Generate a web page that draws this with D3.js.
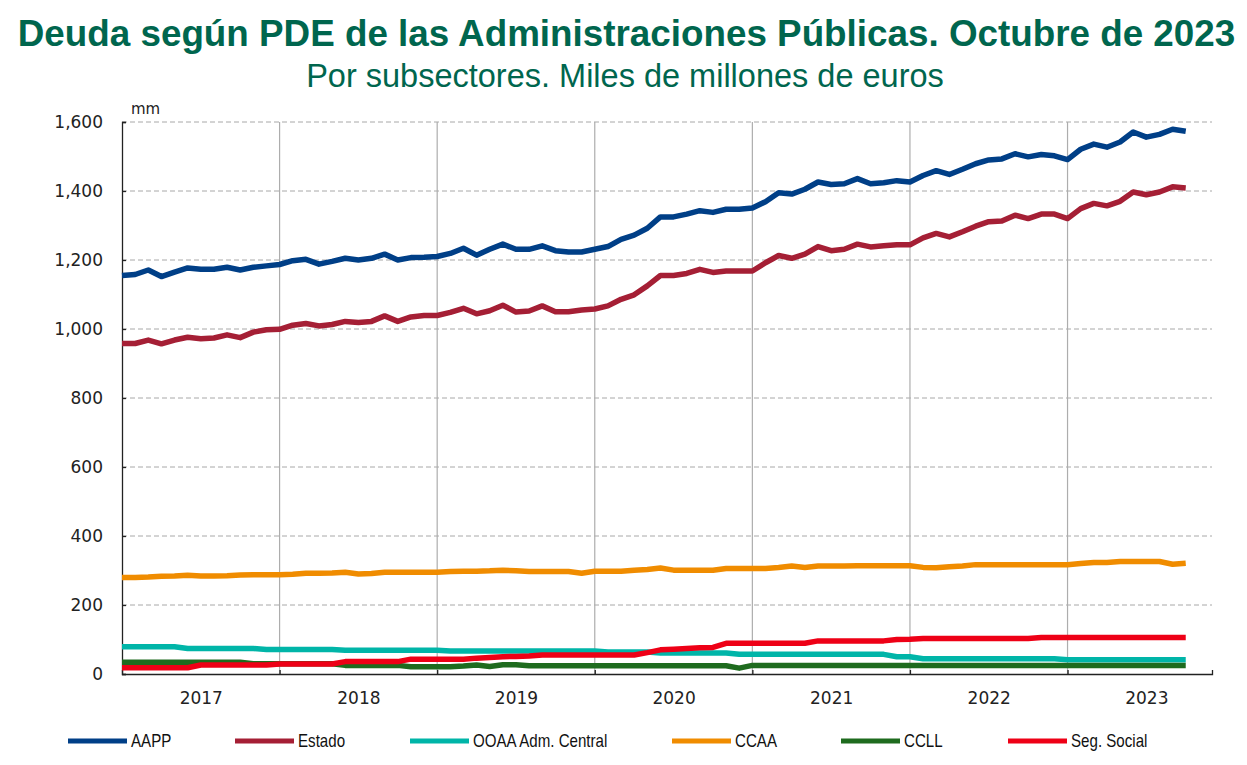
<!DOCTYPE html>
<html>
<head>
<meta charset="utf-8">
<script src="https://cdn.jsdelivr.net/npm/d3@7"></script>
<style>
  body { margin: 0; background: #fff; }
  svg { display: block; }
</style>
</head>
<body>
<div id="chart"></div>
<script>
// monthly data, Jan 2017 .. Oct 2023
const years = [2017, 2018, 2019, 2020, 2021, 2022, 2023];
const yTicks = [0, 200, 400, 600, 800, 1000, 1200, 1400, 1600];

const seriesNames = ['AAPP', 'Estado', 'OOAA Adm. Central', 'CCAA', 'CCLL', 'Seg. Social'];
const seriesColors = ['#003f87', '#a51f35', '#00b5a8', '#f08c00', '#1e6b1e', '#ee0016'];

const aapp = [
  1155, 1158, 1171, 1152, 1165, 1177, 1173, 1173, 1179, 1171, 1179, 1183,
  1187, 1198, 1202, 1188, 1196, 1205, 1200, 1205, 1217, 1200, 1207, 1208,
  1210, 1219, 1234, 1214, 1231, 1246, 1231, 1231, 1241, 1227, 1223, 1223,
  1231, 1239, 1260, 1272, 1292, 1325, 1325, 1333, 1343, 1338, 1347, 1347,
  1351, 1369, 1395, 1391, 1405, 1426, 1419, 1421, 1436, 1421, 1424, 1430,
  1426, 1445, 1459, 1448, 1463, 1479, 1490, 1493, 1508, 1499, 1506, 1502,
  1491, 1521, 1536, 1527, 1542, 1571, 1556, 1564, 1579, 1573
];
const estado = [
  958, 958, 968, 957, 968, 976, 972, 974, 983, 975, 991, 998,
  999, 1011, 1016, 1009, 1013, 1022, 1019, 1022, 1038, 1022, 1035, 1039,
  1039, 1048, 1060, 1044, 1053, 1069, 1049, 1052, 1067, 1050, 1050, 1055,
  1058, 1067, 1086, 1099, 1125, 1155, 1155, 1161, 1173, 1164, 1168, 1168,
  1168, 1192, 1213, 1205, 1217, 1239, 1227, 1231, 1246, 1238, 1241, 1244,
  1244, 1264, 1277, 1267, 1282, 1298, 1311, 1313, 1330, 1320, 1333, 1333,
  1320, 1349, 1364, 1357, 1370, 1397, 1389, 1397, 1412, 1409
];
const ooaa = [
  79, 79, 79, 79, 79, 74, 74, 74, 74, 74, 74, 71,
  71, 71, 71, 71, 71, 69, 69, 69, 69, 69, 69, 69,
  69, 67, 67, 67, 67, 67, 67, 67, 67, 67, 67, 67,
  67, 64, 64, 64, 64, 61, 61, 61, 61, 61, 61, 57,
  57, 57, 57, 57, 57, 57, 57, 57, 57, 57, 57, 50,
  50, 44, 44, 44, 44, 44, 44, 44, 44, 44, 44, 44,
  41, 41, 41, 41, 41, 41, 41, 41, 41, 41
];
const ccaa = [
  280, 280, 281, 283, 284, 286, 284, 284, 285, 287, 288, 288,
  288, 289, 292, 292, 293, 295, 290, 291, 295, 295, 295, 295,
  295, 297, 298, 298, 299, 301, 299, 297, 297, 297, 297, 292,
  298, 298, 298, 301, 303, 307, 301, 301, 301, 301, 306, 306,
  306, 306, 309, 313, 309, 313, 313, 313, 314, 314, 314, 314,
  314, 309, 308, 311, 313, 317, 317, 317, 317, 317, 317, 317,
  317, 320, 323, 323, 326, 326, 326, 326, 318, 321
];
const ccll = [
  34, 34, 34, 34, 34, 34, 34, 34, 34, 34, 30, 30,
  30, 30, 30, 30, 30, 25, 25, 25, 25, 25, 21, 21,
  21, 21, 23, 26, 22, 27, 27, 24, 24, 24, 24, 24,
  24, 24, 24, 24, 24, 24, 24, 24, 24, 24, 24, 17,
  25, 25, 25, 25, 25, 25, 25, 25, 25, 25, 25, 25,
  25, 25, 25, 25, 25, 25, 25, 25, 25, 25, 25, 25,
  25, 25, 25, 25, 25, 25, 25, 25, 25, 25
];
const segSocial = [
  18, 18, 18, 18, 18, 18, 26, 26, 26, 26, 26, 26,
  29, 29, 29, 29, 29, 36, 36, 36, 36, 36, 43, 43,
  43, 43, 43, 46, 48, 50, 51, 52, 55, 55, 55, 55,
  55, 55, 55, 55, 62, 70, 72, 74, 76, 77, 89, 89,
  89, 89, 89, 89, 89, 96, 96, 96, 96, 96, 96, 100,
  101, 103, 103, 103, 103, 103, 103, 103, 103, 103, 106, 106,
  106, 106, 106, 106, 106, 106, 106, 106, 106, 106
];
const seriesValues = [aapp, estado, ooaa, ccaa, ccll, segSocial];

const width = 1247;
const height = 765;
const plotLeft = 122, plotRight = 1212, plotTop = 122, plotBottom = 674;
const legendX = [68, 235, 410, 672, 841, 1008];
const green = '#00664e';
const tickFont = 'DejaVu Sans, sans-serif';

const svg = d3.select('#chart')
  .append('svg')
    .attr('width', width)
    .attr('height', height);

// title
svg.append('text')
    .attr('x', width / 2 + 3)
    .attr('y', 46)
    .attr('text-anchor', 'middle')
    .style('font-family', 'Liberation Sans, Arial, sans-serif')
    .style('font-weight', 'bold')
    .style('font-size', '36.8px')
    .style('fill', green)
    .text('Deuda según PDE de las Administraciones Públicas. Octubre de 2023');

svg.append('text')
    .attr('x', 625)
    .attr('y', 87)
    .attr('text-anchor', 'middle')
    .style('font-family', 'Liberation Sans, Arial, sans-serif')
    .style('font-size', '32.5px')
    .style('fill', green)
    .text('Por subsectores. Miles de millones de euros');

const nMonths = years.length * 12 - 1; // domain up to Dec 2023
const x = d3.scaleLinear().domain([0, nMonths]).range([plotLeft, plotRight]);
const y = d3.scaleLinear().domain([0, 1600]).range([plotBottom, plotTop]);

// horizontal dashed grid
svg.append('g')
  .selectAll('line')
  .data(yTicks.filter(d => d > 0))
  .enter()
    .append('line')
      .attr('x1', plotLeft)
      .attr('x2', plotRight)
      .attr('y1', d => y(d))
      .attr('y2', d => y(d))
      .attr('stroke', '#a8a8a8')
      .attr('stroke-width', 1)
      .attr('stroke-dasharray', '5,3');

// vertical year grid
const yearStarts = years.slice(1).map((d, i) => (i + 1) * 12);
svg.append('g')
  .selectAll('line')
  .data(yearStarts)
  .enter()
    .append('line')
      .attr('x1', d => x(d))
      .attr('x2', d => x(d))
      .attr('y1', plotTop)
      .attr('y2', plotBottom)
      .attr('stroke', '#adadad')
      .attr('stroke-width', 1.2);

// y axis
const yAxis = svg.append('g')
    .attr('transform', `translate(${plotLeft}, 0)`)
    .call(d3.axisLeft(y)
      .tickValues(yTicks)
      .tickSize(-4)
      .tickPadding(19)
      .tickFormat(d3.format(',')));
yAxis.select('.domain').attr('stroke', '#222').attr('stroke-width', 1.3);
yAxis.selectAll('.tick line').attr('stroke', '#222').attr('stroke-width', 1.3);
yAxis.selectAll('text')
    .style('font-family', tickFont)
    .style('font-size', '17px')
    .style('fill', '#222');

svg.append('text')
    .attr('x', 131)
    .attr('y', 114)
    .style('font-family', tickFont)
    .style('font-size', '15px')
    .style('fill', '#222')
    .text('mm');

// x axis: ticks at year starts, labels mid-year
const xAxis = svg.append('g')
    .attr('transform', `translate(0, ${plotBottom})`)
    .call(d3.axisBottom(x)
      .tickValues(yearStarts)
      .tickSize(-4)
      .tickFormat(''));
xAxis.select('.domain').attr('stroke', '#222').attr('stroke-width', 1.3);
xAxis.selectAll('.tick line').attr('stroke', '#222').attr('stroke-width', 1.3);

const xLabels = svg.append('g')
    .attr('transform', `translate(0, ${plotBottom})`)
    .call(d3.axisBottom(x)
      .tickValues(years.map((d, i) => i * 12 + 6))
      .tickSize(0)
      .tickPadding(18)
      .tickFormat((d, i) => years[i]));
xLabels.select('.domain').remove();
xLabels.selectAll('text')
    .style('font-family', tickFont)
    .style('font-size', '17px')
    .style('fill', '#222');

// lines
const line = d3.line()
    .x((d, i) => x(i))
    .y(d => y(d));

svg.append('g')
  .selectAll('path')
  .data(seriesValues)
  .enter()
    .append('path')
      .attr('d', d => line(d))
      .attr('fill', 'none')
      .attr('stroke', (d, i) => seriesColors[i])
      .attr('stroke-width', 5.5)
      .attr('stroke-linejoin', 'round');

// legend
const legend = svg.append('g')
  .selectAll('g')
  .data(seriesNames)
  .enter()
    .append('g')
      .attr('transform', (d, i) => `translate(${legendX[i]}, 741)`);

legend.append('line')
    .attr('x1', 0)
    .attr('x2', 59)
    .attr('stroke', (d, i) => seriesColors[i])
    .attr('stroke-width', 5);

// narrow legend type: regular sans squeezed horizontally
legend.append('text')
    .attr('transform', 'translate(63, 0) scale(0.84, 1)')
    .attr('dy', '0.36em')
    .style('font-family', 'Liberation Sans, Arial, sans-serif')
    .style('font-size', '18px')
    .style('fill', '#111')
    .text(d => d);
</script>
</body>
</html>
